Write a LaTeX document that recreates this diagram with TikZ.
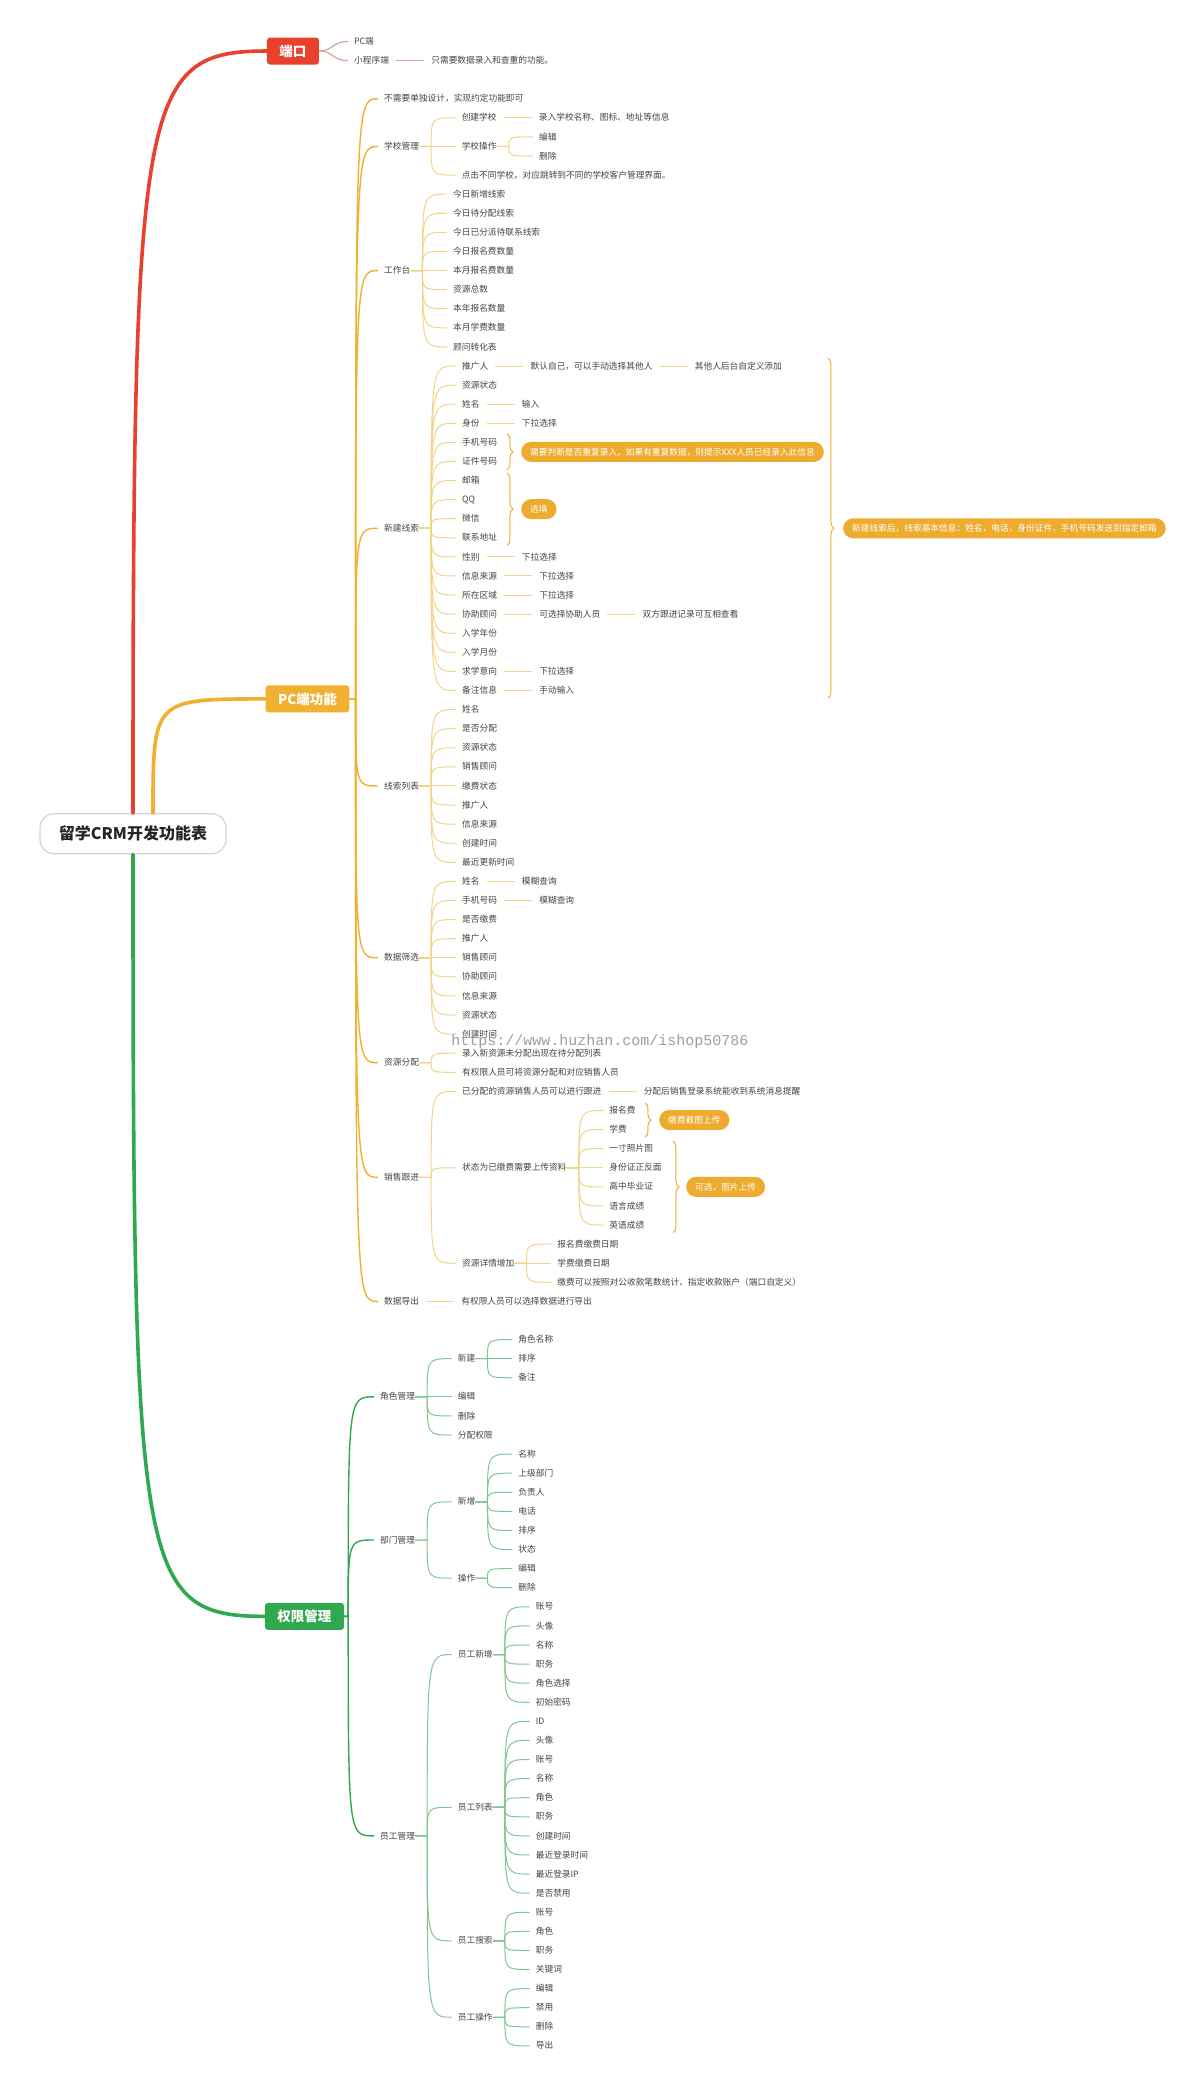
\documentclass[tikz,border=0pt]{standalone}
\usepackage{fontspec}
\setmainfont{Noto Sans CJK SC}
\newfontfamily\urlfont{Liberation Mono}
\definecolor{redc}{HTML}{E8412E}
\definecolor{ylwc}{HTML}{F0B030}
\definecolor{grnc}{HTML}{2FA84F}
\definecolor{redl}{HTML}{D8A3A0}
\definecolor{ylwl}{HTML}{F2D486}
\definecolor{grnl}{HTML}{80C690}
\definecolor{pillc}{HTML}{EDAC2F}
\definecolor{txt}{HTML}{444444}
\definecolor{rootb}{HTML}{D4D4D4}
\usetikzlibrary{positioning,calc,decorations.pathreplacing}
% curved link from a parent to a child on another row, straight link on the same row
\newcommand\fan[4][12pt]{\draw[#2] (#3.east) -- ([xshift=#1]#3.east) .. controls ([xshift=#1]#3.east |- #4.west) .. ([xshift=-6pt]#4.west);}
\newcommand\tie[3]{\draw[#1, shorten <=7pt, shorten >=7pt] (#2.east) -- (#3.west);}

\begin{document}
\begin{tikzpicture}[x=1pt, y=-19.09pt,
  leaf/.style={anchor=west, inner sep=0pt, text height=7.4pt, text depth=1.2pt, text=txt, font=\fontsize{8.7}{10}\selectfont},
  lvl/.style={rounded corners=3pt, inner xsep=12.5pt, minimum height=27pt, text=white, font=\bfseries\fontsize{13.5}{15}\selectfont},
  rootbox/.style={rounded corners=14pt, draw=rootb, line width=1.2pt, fill=white, minimum width=186pt, minimum height=40pt, text=black!85, font=\bfseries\fontsize{16}{18}\selectfont},
  pill/.style={anchor=west, rounded corners=10pt, fill=pillc, text=white, minimum height=20pt, inner xsep=9pt, inner ysep=0pt, font=\fontsize{8.7}{10}\selectfont},
  brc/.style={decorate, decoration={brace, amplitude=6pt}, draw=ylwc, line width=1pt},
  main/.style={line width=3.6pt, line cap=round},
  redk/.style={draw=redl, line width=1.2pt},
  ylwk/.style={draw=ylwc, line width=1.4pt},
  ylwf/.style={draw=ylwl, line width=1pt},
  grnk/.style={draw=grnc, line width=1.4pt},
  grnf/.style={draw=grnl, line width=1pt},
]
\fill[white] (0,-5.173) rectangle (1200,104.05);
\useasboundingbox (0,-5.173) rectangle (1200,104.05);

% root and the three branches
\node[rootbox] (root) at (133,38.5) {留学CRM开发功能表};
\node[lvl, fill=redc] (dk) at (293,-2.5) {端口};
\node[lvl, fill=ylwc] (pc) at (307.5,31.44) {PC端功能};
\node[lvl, fill=grnc] (qx) at (304.5,79.5) {权限管理};
\draw[main, redc] (root.north) .. controls ($(root.north |- dk.west)+(0,-46pt)$) and ([xshift=-127pt]dk.west) .. (dk.west);
\draw[main, ylwc] ([xshift=20pt]root.north) .. controls ([xshift=20pt]root.north |- pc.west) .. (pc.west);
\draw[main, grnc] (root.south) .. controls ($(root.south |- qx.west)+(0,46pt)$) and ([xshift=-127pt]qx.west) .. (qx.west);

% 端口
\node[leaf] (pcd) at (354,-3) {PC端};
\node[leaf] (xcx) at (354,-2) {小程序端};
\node[leaf, right=42pt of xcx] (xcxa) {只需要数据录入和查重的功能。};
\draw[redk] (dk.east) .. controls ([xshift=14pt]dk.east) and ([xshift=-22pt]pcd.west) .. ([xshift=-6pt]pcd.west);
\draw[redk] (dk.east) .. controls ([xshift=14pt]dk.east) and ([xshift=-22pt]xcx.west) .. ([xshift=-6pt]xcx.west);
\tie{redk}{xcx}{xcxa}

% PC端功能
\node[leaf] (bxy) at (384,0) {不需要单独设计，实现约定功能即可};
\node[leaf] (xxgl) at (384,2.5) {学校管理};
\node[leaf] (gzt) at (384,9) {工作台};
\node[leaf] (xjxs) at (384,22.5) {新建线索};
\node[leaf] (xslb) at (384,36) {线索列表};
\node[leaf] (sjsx) at (384,45) {数据筛选};
\node[leaf] (zyfp) at (384,50.5) {资源分配};
\node[leaf] (xsgj) at (384,56.5) {销售跟进};
\node[leaf] (sjdc) at (384,63) {数据导出};
\fan[6pt]{ylwk}{pc}{bxy}
\fan[6pt]{ylwk}{pc}{xxgl}
\fan[6pt]{ylwk}{pc}{gzt}
\fan[6pt]{ylwk}{pc}{xjxs}
\fan[6pt]{ylwk}{pc}{xslb}
\fan[6pt]{ylwk}{pc}{sjsx}
\fan[6pt]{ylwk}{pc}{zyfp}
\fan[6pt]{ylwk}{pc}{xsgj}
\fan[6pt]{ylwk}{pc}{sjdc}

% 学校管理
\node[leaf] (cjxx) at (461.6,1) {创建学校};
\node[leaf, right=42pt of cjxx] (lrxx) {录入学校名称、图标、地址等信息};
\node[leaf] (xxcz) at (461.6,2.5) {学校操作};
\node[leaf] (xxbj) at (539,2) {编辑};
\node[leaf] (xxsc) at (539,3) {删除};
\node[leaf] (djbt) at (461.6,4) {点击不同学校，对应跳转到不同的学校客户管理界面。};
\fan{ylwf}{xxgl}{cjxx}
\fan{ylwf}{xxgl}{xxcz}
\fan{ylwf}{xxgl}{djbt}
\tie{ylwf}{cjxx}{lrxx}
\fan{ylwf}{xxcz}{xxbj}
\fan{ylwf}{xxcz}{xxsc}

% 工作台
\node[leaf] (gz1) at (453,5) {今日新增线索};
\node[leaf] (gz2) at (453,6) {今日待分配线索};
\node[leaf] (gz3) at (453,7) {今日已分派待联系线索};
\node[leaf] (gz4) at (453,8) {今日报名费数量};
\node[leaf] (gz5) at (453,9) {本月报名费数量};
\node[leaf] (gz6) at (453,10) {资源总数};
\node[leaf] (gz7) at (453,11) {本年报名数量};
\node[leaf] (gz8) at (453,12) {本月学费数量};
\node[leaf] (gz9) at (453,13) {顾问转化表};
\fan{ylwf}{gzt}{gz1}
\fan{ylwf}{gzt}{gz2}
\fan{ylwf}{gzt}{gz3}
\fan{ylwf}{gzt}{gz4}
\fan{ylwf}{gzt}{gz5}
\fan{ylwf}{gzt}{gz6}
\fan{ylwf}{gzt}{gz7}
\fan{ylwf}{gzt}{gz8}
\fan{ylwf}{gzt}{gz9}

% 新建线索
\node[leaf] (xj1) at (462,14) {推广人};
\node[leaf, right=42pt of xj1] (xj1a) {默认自己，可以手动选择其他人};
\node[leaf, right=42pt of xj1a] (xj1b) {其他人后台自定义添加};
\node[leaf] (xj2) at (462,15) {资源状态};
\node[leaf] (xj3) at (462,16) {姓名};
\node[leaf, right=42pt of xj3] (xj3a) {输入};
\node[leaf] (xj4) at (462,17) {身份};
\node[leaf, right=42pt of xj4] (xj4a) {下拉选择};
\node[leaf] (xj5) at (462,18) {手机号码};
\node[leaf] (xj6) at (462,19) {证件号码};
\node[leaf] (xj7) at (462,20) {邮箱};
\node[leaf] (xj8) at (462,21) {QQ};
\node[leaf] (xj9) at (462,22) {微信};
\node[leaf] (xj10) at (462,23) {联系地址};
\node[leaf] (xj11) at (462,24) {性别};
\node[leaf, right=42pt of xj11] (xj11a) {下拉选择};
\node[leaf] (xj12) at (462,25) {信息来源};
\node[leaf, right=42pt of xj12] (xj12a) {下拉选择};
\node[leaf] (xj13) at (462,26) {所在区域};
\node[leaf, right=42pt of xj13] (xj13a) {下拉选择};
\node[leaf] (xj14) at (462,27) {协助顾问};
\node[leaf, right=42pt of xj14] (xj14a) {可选择协助人员};
\node[leaf, right=42pt of xj14a] (xj14b) {双方跟进记录可互相查看};
\node[leaf] (xj15) at (462,28) {入学年份};
\node[leaf] (xj16) at (462,29) {入学月份};
\node[leaf] (xj17) at (462,30) {求学意向};
\node[leaf, right=42pt of xj17] (xj17a) {下拉选择};
\node[leaf] (xj18) at (462,31) {备注信息};
\node[leaf, right=42pt of xj18] (xj18a) {手动输入};
\fan{ylwf}{xjxs}{xj1}
\fan{ylwf}{xjxs}{xj2}
\fan{ylwf}{xjxs}{xj3}
\fan{ylwf}{xjxs}{xj4}
\fan{ylwf}{xjxs}{xj5}
\fan{ylwf}{xjxs}{xj6}
\fan{ylwf}{xjxs}{xj7}
\fan{ylwf}{xjxs}{xj8}
\fan{ylwf}{xjxs}{xj9}
\fan{ylwf}{xjxs}{xj10}
\fan{ylwf}{xjxs}{xj11}
\fan{ylwf}{xjxs}{xj12}
\fan{ylwf}{xjxs}{xj13}
\fan{ylwf}{xjxs}{xj14}
\fan{ylwf}{xjxs}{xj15}
\fan{ylwf}{xjxs}{xj16}
\fan{ylwf}{xjxs}{xj17}
\fan{ylwf}{xjxs}{xj18}
\tie{ylwf}{xj1}{xj1a}
\tie{ylwf}{xj1a}{xj1b}
\tie{ylwf}{xj3}{xj3a}
\tie{ylwf}{xj4}{xj4a}
\tie{ylwf}{xj11}{xj11a}
\tie{ylwf}{xj12}{xj12a}
\tie{ylwf}{xj13}{xj13a}
\tie{ylwf}{xj14}{xj14a}
\tie{ylwf}{xj14a}{xj14b}
\tie{ylwf}{xj17}{xj17a}
\tie{ylwf}{xj18}{xj18a}
\draw[brc] (507,17.55) -- (507,19.45);
\node[pill] (cfly) at (521,18.5) {需要判断是否重复录入，如果有重复数据，则提示XXX人员已经录入此信息};
\draw[brc] (507,19.6) -- (507,23.4);
\node[pill] (xtan) at (521,21.5) {选填};
\draw[brc] (828,13.6) -- (828,31.4);
\node[pill] (fsyx) at (843,22.5) {新建线索后，线索基本信息：姓名，电话，身份证件，手机号码发送到指定邮箱};

% 线索列表
\node[leaf] (xl1) at (462,32) {姓名};
\node[leaf] (xl2) at (462,33) {是否分配};
\node[leaf] (xl3) at (462,34) {资源状态};
\node[leaf] (xl4) at (462,35) {销售顾问};
\node[leaf] (xl5) at (462,36) {缴费状态};
\node[leaf] (xl6) at (462,37) {推广人};
\node[leaf] (xl7) at (462,38) {信息来源};
\node[leaf] (xl8) at (462,39) {创建时间};
\node[leaf] (xl9) at (462,40) {最近更新时间};
\fan{ylwf}{xslb}{xl1}
\fan{ylwf}{xslb}{xl2}
\fan{ylwf}{xslb}{xl3}
\fan{ylwf}{xslb}{xl4}
\fan{ylwf}{xslb}{xl5}
\fan{ylwf}{xslb}{xl6}
\fan{ylwf}{xslb}{xl7}
\fan{ylwf}{xslb}{xl8}
\fan{ylwf}{xslb}{xl9}

% 数据筛选
\node[leaf] (sx1) at (462,41) {姓名};
\node[leaf, right=42pt of sx1] (sx1a) {模糊查询};
\node[leaf] (sx2) at (462,42) {手机号码};
\node[leaf, right=42pt of sx2] (sx2a) {模糊查询};
\node[leaf] (sx3) at (462,43) {是否缴费};
\node[leaf] (sx4) at (462,44) {推广人};
\node[leaf] (sx5) at (462,45) {销售顾问};
\node[leaf] (sx6) at (462,46) {协助顾问};
\node[leaf] (sx7) at (462,47) {信息来源};
\node[leaf] (sx8) at (462,48) {资源状态};
\node[leaf] (sx9) at (462,49) {创建时间};
\fan{ylwf}{sjsx}{sx1}
\fan{ylwf}{sjsx}{sx2}
\fan{ylwf}{sjsx}{sx3}
\fan{ylwf}{sjsx}{sx4}
\fan{ylwf}{sjsx}{sx5}
\fan{ylwf}{sjsx}{sx6}
\fan{ylwf}{sjsx}{sx7}
\fan{ylwf}{sjsx}{sx8}
\fan{ylwf}{sjsx}{sx9}
\tie{ylwf}{sx1}{sx1a}
\tie{ylwf}{sx2}{sx2a}

% 资源分配
\node[leaf] (fp1) at (462,50) {录入新资源未分配出现在待分配列表};
\node[leaf] (fp2) at (462,51) {有权限人员可将资源分配和对应销售人员};
\fan{ylwf}{zyfp}{fp1}
\fan{ylwf}{zyfp}{fp2}

% 销售跟进
\node[leaf] (gj1) at (462,52) {已分配的资源销售人员可以进行跟进};
\node[leaf, right=42pt of gj1] (gj1a) {分配后销售登录系统能收到系统消息提醒};
\node[leaf] (gj2) at (462,56) {状态为已缴费需要上传资料};
\node[leaf] (gj3) at (462,61) {资源详情增加};
\fan{ylwf}{xsgj}{gj1}
\fan{ylwf}{xsgj}{gj2}
\fan{ylwf}{xsgj}{gj3}
\tie{ylwf}{gj1}{gj1a}
\node[leaf] (sc1) at (609.3,53) {报名费};
\node[leaf] (sc2) at (609.3,54) {学费};
\node[leaf] (sc3) at (609.3,55) {一寸照片图};
\node[leaf] (sc4) at (609.3,56) {身份证正反面};
\node[leaf] (sc5) at (609.3,57) {高中毕业证};
\node[leaf] (sc6) at (609.3,58) {语言成绩};
\node[leaf] (sc7) at (609.3,59) {英语成绩};
\fan{ylwf}{gj2}{sc1}
\fan{ylwf}{gj2}{sc2}
\fan{ylwf}{gj2}{sc3}
\fan{ylwf}{gj2}{sc4}
\fan{ylwf}{gj2}{sc5}
\fan{ylwf}{gj2}{sc6}
\fan{ylwf}{gj2}{sc7}
\draw[brc] (645,52.6) -- (645,54.4);
\node[pill] (jfjt) at (659,53.5) {缴费截图上传};
\draw[brc] (673,54.6) -- (673,59.4);
\node[pill] (kxtp) at (686,57) {可选，图片上传};
\node[leaf] (xq1) at (557.3,60) {报名费缴费日期};
\node[leaf] (xq2) at (557.3,61) {学费缴费日期};
\node[leaf] (xq3) at (557.3,62) {缴费可以按照对公收款笔数统计、指定收款账户（端口自定义）};
\fan{ylwf}{gj3}{xq1}
\fan{ylwf}{gj3}{xq2}
\fan{ylwf}{gj3}{xq3}

% 数据导出
\node[leaf, right=42pt of sjdc] (dc1) {有权限人员可以选择数据进行导出};
\tie{ylwf}{sjdc}{dc1}

% 权限管理
\node[leaf] (js) at (380,68) {角色管理};
\node[leaf] (bm) at (380,75.5) {部门管理};
\node[leaf] (yg) at (380,91) {员工管理};
\fan[4pt]{grnk}{qx}{js}
\fan[4pt]{grnk}{qx}{bm}
\fan[4pt]{grnk}{qx}{yg}

% 角色管理
\node[leaf] (jsxj) at (457.7,66) {新建};
\node[leaf] (jsbj) at (457.7,68) {编辑};
\node[leaf] (jssc) at (457.7,69) {删除};
\node[leaf] (jsfp) at (457.7,70) {分配权限};
\fan{grnf}{js}{jsxj}
\fan{grnf}{js}{jsbj}
\fan{grnf}{js}{jssc}
\fan{grnf}{js}{jsfp}
\node[leaf] (jx1) at (518.3,65) {角色名称};
\node[leaf] (jx2) at (518.3,66) {排序};
\node[leaf] (jx3) at (518.3,67) {备注};
\fan{grnf}{jsxj}{jx1}
\fan{grnf}{jsxj}{jx2}
\fan{grnf}{jsxj}{jx3}

% 部门管理
\node[leaf] (bmxz) at (457.7,73.5) {新增};
\node[leaf] (bmcz) at (457.7,77.5) {操作};
\fan{grnf}{bm}{bmxz}
\fan{grnf}{bm}{bmcz}
\node[leaf] (bx1) at (518.3,71) {名称};
\node[leaf] (bx2) at (518.3,72) {上级部门};
\node[leaf] (bx3) at (518.3,73) {负责人};
\node[leaf] (bx4) at (518.3,74) {电话};
\node[leaf] (bx5) at (518.3,75) {排序};
\node[leaf] (bx6) at (518.3,76) {状态};
\fan{grnf}{bmxz}{bx1}
\fan{grnf}{bmxz}{bx2}
\fan{grnf}{bmxz}{bx3}
\fan{grnf}{bmxz}{bx4}
\fan{grnf}{bmxz}{bx5}
\fan{grnf}{bmxz}{bx6}
\node[leaf] (bc1) at (518.3,77) {编辑};
\node[leaf] (bc2) at (518.3,78) {删除};
\fan{grnf}{bmcz}{bc1}
\fan{grnf}{bmcz}{bc2}

% 员工管理
\node[leaf] (ygxz) at (457.7,81.5) {员工新增};
\node[leaf] (yglb) at (457.7,89.5) {员工列表};
\node[leaf] (ygss) at (457.7,96.5) {员工搜索};
\node[leaf] (ygcz) at (457.7,100.5) {员工操作};
\fan{grnf}{yg}{ygxz}
\fan{grnf}{yg}{yglb}
\fan{grnf}{yg}{ygss}
\fan{grnf}{yg}{ygcz}
\node[leaf] (yx1) at (535.7,79) {账号};
\node[leaf] (yx2) at (535.7,80) {头像};
\node[leaf] (yx3) at (535.7,81) {名称};
\node[leaf] (yx4) at (535.7,82) {职务};
\node[leaf] (yx5) at (535.7,83) {角色选择};
\node[leaf] (yx6) at (535.7,84) {初始密码};
\fan{grnf}{ygxz}{yx1}
\fan{grnf}{ygxz}{yx2}
\fan{grnf}{ygxz}{yx3}
\fan{grnf}{ygxz}{yx4}
\fan{grnf}{ygxz}{yx5}
\fan{grnf}{ygxz}{yx6}
\node[leaf] (yl1) at (535.7,85) {ID};
\node[leaf] (yl2) at (535.7,86) {头像};
\node[leaf] (yl3) at (535.7,87) {账号};
\node[leaf] (yl4) at (535.7,88) {名称};
\node[leaf] (yl5) at (535.7,89) {角色};
\node[leaf] (yl6) at (535.7,90) {职务};
\node[leaf] (yl7) at (535.7,91) {创建时间};
\node[leaf] (yl8) at (535.7,92) {最近登录时间};
\node[leaf] (yl9) at (535.7,93) {最近登录IP};
\node[leaf] (yl10) at (535.7,94) {是否禁用};
\fan{grnf}{yglb}{yl1}
\fan{grnf}{yglb}{yl2}
\fan{grnf}{yglb}{yl3}
\fan{grnf}{yglb}{yl4}
\fan{grnf}{yglb}{yl5}
\fan{grnf}{yglb}{yl6}
\fan{grnf}{yglb}{yl7}
\fan{grnf}{yglb}{yl8}
\fan{grnf}{yglb}{yl9}
\fan{grnf}{yglb}{yl10}
\node[leaf] (ys1) at (535.7,95) {账号};
\node[leaf] (ys2) at (535.7,96) {角色};
\node[leaf] (ys3) at (535.7,97) {职务};
\node[leaf] (ys4) at (535.7,98) {关键词};
\fan{grnf}{ygss}{ys1}
\fan{grnf}{ygss}{ys2}
\fan{grnf}{ygss}{ys3}
\fan{grnf}{ygss}{ys4}
\node[leaf] (yc1) at (535.7,99) {编辑};
\node[leaf] (yc2) at (535.7,100) {禁用};
\node[leaf] (yc3) at (535.7,101) {删除};
\node[leaf] (yc4) at (535.7,102) {导出};
\fan{grnf}{ygcz}{yc1}
\fan{grnf}{ygcz}{yc2}
\fan{grnf}{ygcz}{yc3}
\fan{grnf}{ygcz}{yc4}

% overlay text
\node[text=black!38, font=\urlfont\fontsize{15}{15}\selectfont] (wm) at (600,49.41) {https://www.huzhan.com/ishop50786};
\end{tikzpicture}
\end{document}
